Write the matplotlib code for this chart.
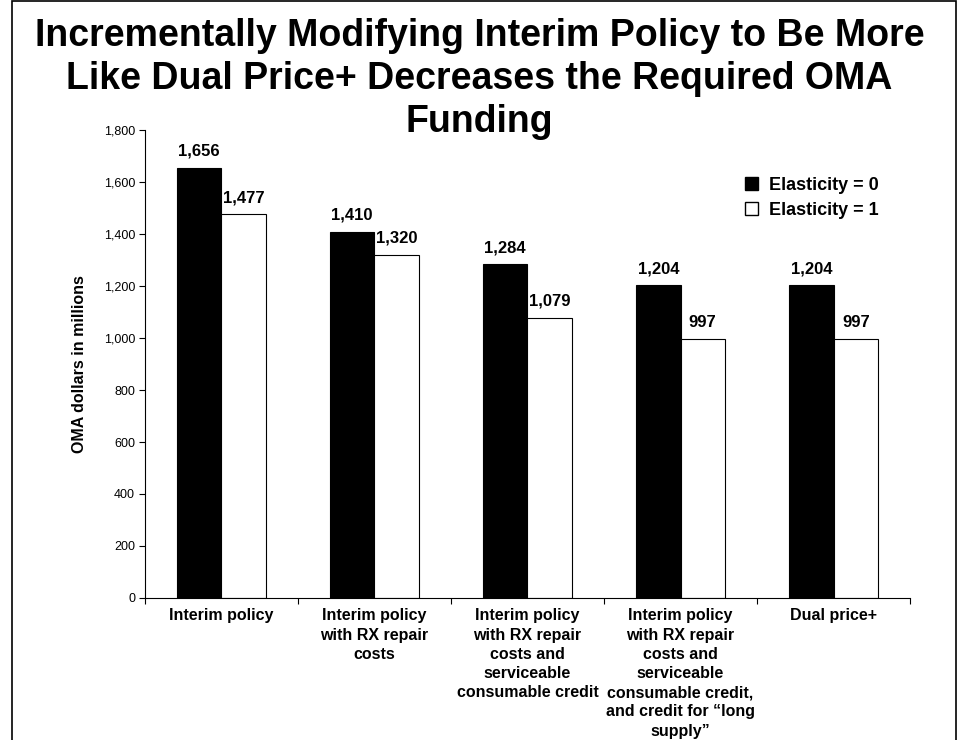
import matplotlib

matplotlib.use("Agg")
import matplotlib.pyplot as plt
from matplotlib.patches import Patch, Rectangle

title_lines = [
    "Incrementally Modifying Interim Policy to Be More",
    "Like Dual Price+ Decreases the Required OMA",
    "Funding",
]
categories = [
    "Interim policy",
    "Interim policy\nwith RX repair\ncosts",
    "Interim policy\nwith RX repair\ncosts and\nserviceable\nconsumable credit",
    "Interim policy\nwith RX repair\ncosts and\nserviceable\nconsumable credit,\nand credit for \u201clong\nsupply\u201d",
    "Dual price+",
]
elasticity_0 = [1656, 1410, 1284, 1204, 1204]
elasticity_1 = [1477, 1320, 1079, 997, 997]
series_names = ["Elasticity = 0", "Elasticity = 1"]
y_ticks = [0, 200, 400, 600, 800, 1000, 1200, 1400, 1600, 1800]

plt.rcParams["font.family"] = ["Liberation Sans", "DejaVu Sans"]

fig = plt.figure(figsize=(9.59, 7.4), dpi=100)
ax = fig.add_axes([0.151, 0.192, 0.798, 0.632])

width = 0.29
x = list(range(len(categories)))
x0 = [i - width / 2 for i in x]
x1 = [i + width / 2 for i in x]
ax.bar(x0, elasticity_0, width, color="black", edgecolor="black", linewidth=0.8)
ax.bar(x1, elasticity_1, width, color="white", edgecolor="black", linewidth=0.8)

for xs, vals in ((x0, elasticity_0), (x1, elasticity_1)):
    for xi, v in zip(xs, vals):
        ax.text(xi, v + 35, f"{v:,}", ha="center", va="bottom",
                fontsize=12, fontweight="bold")

ax.set_xlim(-0.5, len(categories) - 0.5)
ax.set_ylim(0, 1800)
ax.set_yticks(y_ticks)
ax.set_yticklabels([f"{t:,}" for t in y_ticks], fontsize=9)
ax.set_xticks([i - 0.5 for i in range(len(categories) + 1)])
ax.set_xticklabels([])
ax.tick_params(axis="x", direction="out", length=4, width=0.8)
ax.tick_params(axis="y", direction="out", length=4, width=0.8, pad=3)
for i, label in enumerate(categories):
    ax.text(i, -40, label, ha="center", va="top", fontsize=11.5,
            fontweight="bold", linespacing=1.35)

ax.spines["top"].set_visible(False)
ax.spines["right"].set_visible(False)
ax.set_ylabel("OMA dollars in millions", fontsize=11.5, fontweight="bold", labelpad=12)

handles = [Patch(facecolor="black", edgecolor="black"),
           Patch(facecolor="white", edgecolor="black")]
ax.legend(handles, series_names, loc="upper right", bbox_to_anchor=(0.98, 0.935),
          frameon=False, prop={"weight": "bold", "size": 13},
          handlelength=0.7, handleheight=0.7, handletextpad=0.6, labelspacing=0.45)

for line, y in zip(title_lines, (0.938, 0.880, 0.821)):
    fig.text(0.5, y, line, ha="center", va="baseline", fontsize=27,
             fontweight="bold")

fig.patches.append(Rectangle((12 / 959, -0.01), 944 / 959, 1.008,
                             transform=fig.transFigure, fill=False,
                             edgecolor="black", linewidth=1.2))

fig.savefig("out.png", dpi=100)
